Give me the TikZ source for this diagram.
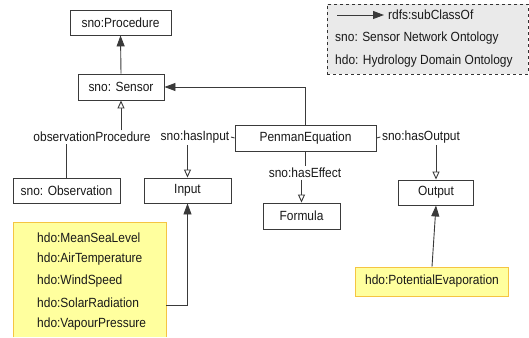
\documentclass[tikz,border=0pt]{standalone}
\usepackage{fontspec}
\setmainfont[FakeStretch=0.9]{Liberation Sans}
\usetikzlibrary{arrows.meta}
\definecolor{linegray}{HTML}{3A3A3A}
\definecolor{legfill}{HTML}{EAEAEA}
\definecolor{yfill}{HTML}{FFFF9E}
\definecolor{yborder}{HTML}{F5C542}
\begin{document}
\begin{tikzpicture}[x=1pt,y=-1pt,
  font=\fontsize{13.3}{15}\selectfont,
  cls/.style={draw=linegray, line width=0.9pt, fill=white, inner sep=0pt, text=black!90},
  lbl/.style={inner sep=1.5pt, text=black!90},
  conn/.style={draw=linegray, line width=0.9pt},
  sub/.style={conn, -{Triangle[width=8pt,length=11pt]}},
  prop/.style={conn, -{Triangle[open,width=7pt,length=8pt,fill=white]}},
  ytext/.style={anchor=west, inner sep=0pt, text=black!90},
]
\useasboundingbox (0,0) rectangle (529,337);

% legend
\node[draw=black!80, dashed, line width=0.6pt, fill=legfill, minimum width=201pt, minimum height=70pt, anchor=north west, inner sep=0pt] (legend) at (327,4) {};
\coordinate (la) at (337,15);
\coordinate (lb) at (384,15);
\node[anchor=west, inner sep=0pt, text=black!90] (lsub) at (388,15) {rdfs:subClassOf};
\draw[sub] (la) -- (lb);
\node[anchor=west, inner sep=0pt, text=black!90] (lsno) at (335,38) {sno: Sensor Network Ontology};
\node[anchor=west, inner sep=0pt, text=black!90] (lhdo) at (335,61) {hdo: Hydrology Domain Ontology};

% classes
\node[cls, minimum width=101pt, minimum height=25pt] (proc) at (120.5,22.5) {sno:Procedure};
\node[cls, minimum width=86pt, minimum height=26pt] (sensor) at (121,87) {sno: Sensor};
\node[cls, minimum width=141pt, minimum height=26pt] (penman) at (305.5,138) {PenmanEquation};
\node[cls, minimum width=107pt, minimum height=25pt] (obs) at (66.5,190.5) {sno: Observation};
\node[cls, minimum width=87pt, minimum height=25pt] (input) at (187.5,190.5) {Input};
\node[cls, minimum width=75pt, minimum height=25pt] (output) at (436,192.5) {Output};
\node[cls, minimum width=77pt, minimum height=26pt] (formula) at (301.5,216) {Formula};
\node[cls, draw=yborder, fill=yfill, minimum width=153pt, minimum height=29pt] (pev) at (432,281.5) {hdo:PotentialEvaporation};

% property labels
\node[lbl] (obsP) at (92,137) {observationProcedure};
\node[lbl] (hasIn) at (195,137) {sno:hasInput};
\node[lbl] (hasOut) at (421,137) {sno:hasOutput};
\node[lbl] (hasEff) at (305,173) {sno:hasEffect};

% yellow input list (box runs off the bottom edge)
\node[fill=yfill, inner sep=0pt, minimum width=153pt, minimum height=115pt, anchor=north west] (inbox) at (13,222) {};
\draw[yborder, line width=0.9pt] (inbox.south west) |- (inbox.north east) -- (inbox.south east);
\node[ytext] (y1) at (37,238) {hdo:MeanSeaLevel};
\node[ytext] (y2) at (37,259.5) {hdo:AirTemperature};
\node[ytext] (y3) at (37,281) {hdo:WindSpeed};
\node[ytext] (y4) at (37,302.5) {hdo:SolarRadiation};
\node[ytext] (y5) at (37,324) {hdo:VapourPressure};
\coordinate (ys) at (166,305);

% connectors
\draw[sub] (sensor.north) -- (proc.south);
\draw[sub] (penman.north) |- (sensor.east);
\draw[conn] (obs.north) -- (obs.north |- obsP.south);
\draw[prop] (sensor.south |- obsP.north) -- (sensor.south);
\draw[conn] (hasIn.east) -- (penman.west);
\draw[prop] (input.north |- hasIn.south) -- (input.north);
\draw[conn] (penman.east) -- (hasOut.west);
\draw[prop] (output.north |- hasOut.south) -- (output.north);
\draw[conn] (penman.south -| hasEff.north) -- (hasEff.north);
\draw[prop] (formula.north |- hasEff.south) -- (formula.north);
\draw[sub] (ys) -| (input.south);
\draw[sub] (pev.north) -- (output.south);
\end{tikzpicture}
\end{document}
